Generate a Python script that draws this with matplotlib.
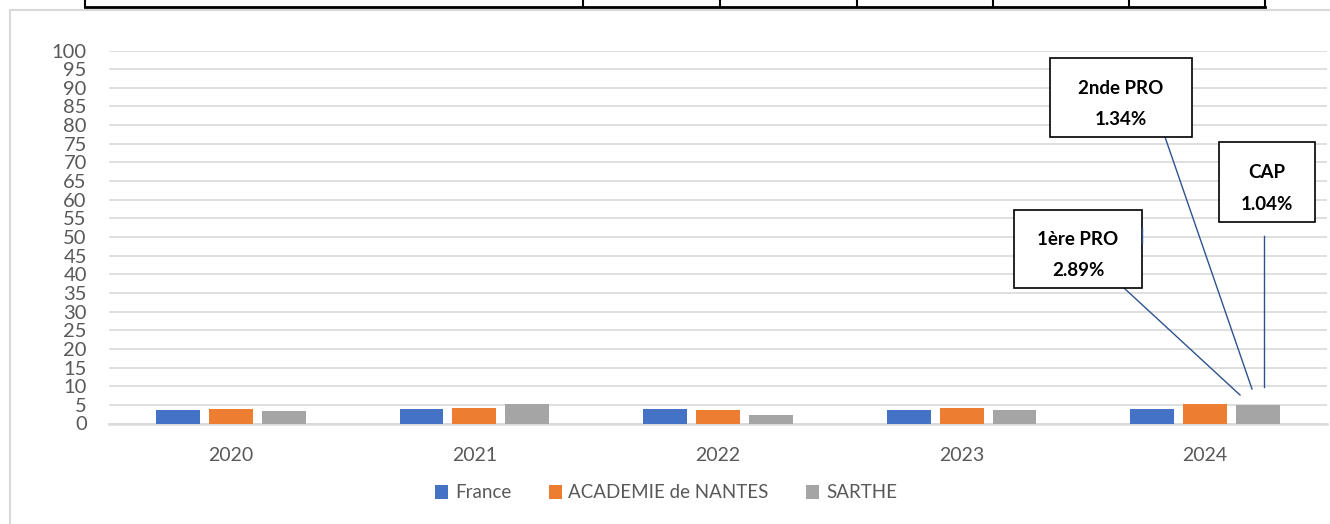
import matplotlib
matplotlib.use("Agg")
import matplotlib.pyplot as plt
import numpy as np
from matplotlib.patches import Rectangle
from matplotlib.lines import Line2D

plt.rcParams['font.family'] = ['Lato', 'DejaVu Sans']

# data
years = ['2020', '2021', '2022', '2023', '2024']
france = [3.7, 3.85, 3.85, 3.5, 4.0]
nantes = [3.8, 4.1, 3.65, 4.1, 5.2]
sarthe = [3.3, 5.2, 2.3, 3.65, 4.9]
series_names = ['France', 'ACADEMIE de NANTES', 'SARTHE']
colors = ['#4472C4', '#ED7D31', '#A5A5A5']

# callouts: label, value
callout_labels = ['2nde PRO', 'CAP', '1ère PRO']
callout_values = ['1.34%', '1.04%', '2.89%']

W, H = 1330, 524
fig = plt.figure(figsize=(W / 100, H / 100), dpi=100)


def fx(px):
    return px / W


def fy(py):
    return 1 - py / H


# plot area
x0, x1 = 109, 1327
y_top, y_bot = 50.5, 423.5
ax = fig.add_axes([fx(x0), fy(y_bot), fx(x1) - fx(x0), fy(y_top) - fy(y_bot)])

x = np.arange(len(years))
bw = 0.18
step = 0.217
for i, (vals, name, c) in enumerate(zip([france, nantes, sarthe], series_names, colors)):
    ax.bar(x + (i - 1) * step, vals, width=bw, color=c, label=name, zorder=3)

ax.set_xlim(-0.5, len(years) - 0.5)
ax.set_ylim(0, 100)
ax.set_yticks(np.arange(0, 101, 5))
ax.set_xticks(x)
ax.set_xticklabels(years)
ax.tick_params(axis='both', length=0, colors='#595959', labelsize=14)
ax.tick_params(axis='y', pad=16, labelsize=14.5)
ax.tick_params(axis='x', pad=17)
ax.yaxis.grid(True, color='#d9d9d9', linewidth=1.2, zorder=0)
ax.set_axisbelow(True)
for s in ['top', 'right', 'left']:
    ax.spines[s].set_visible(False)
ax.spines['bottom'].set_color('#d9d9d9')
ax.spines['bottom'].set_linewidth(1.8)

# legend
handles, labels = ax.get_legend_handles_labels()
leg = fig.legend(handles, labels, loc='center', bbox_to_anchor=(fx(666), fy(493)), ncol=3,
                 frameon=False, fontsize=13.5, handlelength=0.7, handleheight=0.7,
                 handletextpad=0.35, columnspacing=2.0, labelcolor='#595959')

# chart border (light gray) and table remains at top
fig.add_artist(Line2D([fx(10), fx(1330)], [fy(10), fy(10)], color='#d9d9d9', lw=1.5))
fig.add_artist(Line2D([fx(10), fx(10)], [fy(10), fy(524)], color='#d9d9d9', lw=1.5))
fig.add_artist(Line2D([fx(85), fx(1265)], [fy(7), fy(7)], color='black', lw=2))
for vx in [85, 583, 720, 857, 993, 1129, 1265]:
    fig.add_artist(Line2D([fx(vx), fx(vx)], [fy(0), fy(7)], color='black', lw=1.5))

# callout boxes: (left, top, right, bottom) in px
boxes = [(1050, 58, 1192, 137), (1219, 142, 1315, 222), (1014, 210, 1142, 288)]
leaders = [((1165, 137), (1252, 389)), ((1264, 236), (1264, 387)), ((1124, 288), (1240, 395))]
line_col = '#2F528F'
for (l, t, r, b), lab, val, (p0, p1) in zip(boxes, callout_labels, callout_values, leaders):
    fig.add_artist(Rectangle((fx(l), fy(b)), fx(r) - fx(l), fy(t) - fy(b),
                             facecolor='white', edgecolor='black', lw=1.2, zorder=5))
    h = b - t
    fig.text(fx((l + r) / 2), fy(t + h * 0.38), lab, ha='center', va='center',
             fontsize=13.5, fontweight='bold', color='black', zorder=6)
    fig.text(fx((l + r) / 2), fy(t + h * 0.78), val, ha='center', va='center',
             fontsize=13.5, fontweight='bold', color='black', zorder=6)
    fig.add_artist(Line2D([fx(p0[0]), fx(p1[0])], [fy(p0[1]), fy(p1[1])],
                          color=line_col, lw=1.0, zorder=4))
fig.add_artist(Line2D([fx(1142), fx(1142)], [fy(228), fy(243)], color=line_col, lw=1.0, zorder=6))

fig.savefig('out.png', dpi=100)
